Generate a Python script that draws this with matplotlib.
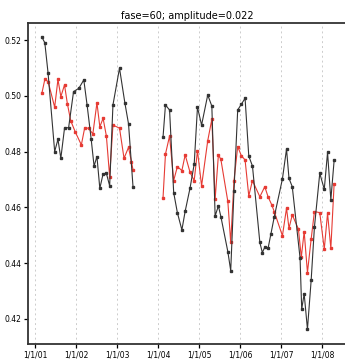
import numpy as np
import matplotlib
matplotlib.use("Agg")
import matplotlib.pyplot as plt

# observed series (decimal years), gap in 2003 split with NaN
black_t = [2001.17, 2001.24, 2001.32, 2001.48, 2001.56, 2001.63, 2001.72, 2001.82,
           2001.94, 2002.07, 2002.19, 2002.27, 2002.37, 2002.44, 2002.51, 2002.58,
           2002.66, 2002.74, 2002.82, 2002.90, 2003.06, 2003.19, 2003.28, 2003.39,
           2003.70,
           2004.12, 2004.18, 2004.28, 2004.38, 2004.47, 2004.58, 2004.66, 2004.78,
           2004.88, 2004.96, 2005.06, 2005.21, 2005.31, 2005.39, 2005.47, 2005.53,
           2005.70, 2005.77, 2005.85, 2005.94, 2006.03, 2006.12, 2006.21, 2006.30,
           2006.48, 2006.54, 2006.60, 2006.68, 2006.75, 2006.83, 2007.03, 2007.13,
           2007.19, 2007.27, 2007.46, 2007.50, 2007.56, 2007.64, 2007.73, 2007.81,
           2007.94, 2008.05, 2008.13, 2008.21, 2008.29]
black_v = [0.5210, 0.5190, 0.5080, 0.4800, 0.4844, 0.4776, 0.4884, 0.4886,
           0.5015, 0.5027, 0.5057, 0.4967, 0.4844, 0.4748, 0.4782, 0.4668,
           0.4720, 0.4722, 0.4677, 0.4967, 0.5099, 0.4975, 0.4899, 0.4672,
           np.nan,
           0.4851, 0.4967, 0.4949, 0.4653, 0.4581, 0.4519, 0.4586, 0.4670,
           0.4755, 0.4959, 0.4895, 0.5003, 0.4963, 0.4569, 0.4605, 0.4567,
           0.4441, 0.4373, 0.4660, 0.4949, 0.4970, 0.4991, 0.4784, 0.4748,
           0.4474, 0.4438, 0.4457, 0.4453, 0.4505, 0.4565, 0.4702, 0.4809,
           0.4704, 0.4674, 0.4418, 0.4235, 0.4290, 0.4163, 0.4338, 0.4529,
           0.4722, 0.4665, 0.4797, 0.4627, 0.4768]

red_t = [2001.17, 2001.24, 2001.32, 2001.48, 2001.56, 2001.63, 2001.72, 2001.79,
         2001.87, 2001.98, 2002.13, 2002.21, 2002.31, 2002.41, 2002.51, 2002.58,
         2002.66, 2002.74, 2002.82, 2002.90, 2003.06, 2003.17, 2003.28, 2003.35,
         2003.39,
         2003.70,
         2004.12, 2004.18, 2004.28, 2004.38, 2004.47, 2004.58, 2004.66, 2004.78,
         2004.88, 2004.96, 2005.06, 2005.21, 2005.31, 2005.39, 2005.47, 2005.53,
         2005.70, 2005.77, 2005.85, 2005.94, 2006.03, 2006.12, 2006.21, 2006.30,
         2006.48, 2006.60, 2006.68, 2006.77, 2006.83, 2007.03, 2007.13, 2007.19,
         2007.27, 2007.42, 2007.49, 2007.56, 2007.64, 2007.73, 2007.81, 2007.94,
         2008.05, 2008.13, 2008.21, 2008.29]
red_v = [0.5010, 0.5059, 0.5051, 0.4959, 0.5059, 0.4997, 0.5039, 0.4971,
         0.4911, 0.4871, 0.4824, 0.4884, 0.4884, 0.4863, 0.4975, 0.4889,
         0.4919, 0.4856, 0.4710, 0.4895, 0.4884, 0.4776, 0.4815, 0.4764,
         0.4734,
         np.nan,
         0.4633, 0.4791, 0.4856, 0.4696, 0.4746, 0.4732, 0.4788, 0.4725,
         0.4696, 0.4803, 0.4677, 0.4839, 0.4916, 0.4629, 0.4788, 0.4772,
         0.4621, 0.4474, 0.4696, 0.4818, 0.4785, 0.4770, 0.4641, 0.4696,
         0.4638, 0.4674, 0.4638, 0.4609, 0.4585, 0.4498, 0.4597, 0.4525,
         0.4573, 0.4522, 0.4421, 0.4513, 0.4366, 0.4486, 0.4585, 0.4581,
         0.4450, 0.4579, 0.4453, 0.4684]

tick_years = [2001, 2002, 2003, 2004, 2005, 2006, 2007, 2008]
tick_labels = ["1/1/01", "1/1/02", "1/1/03", "1/1/04", "1/1/05", "1/1/06", "1/1/07", "1/1/08"]
y_ticks = [0.42, 0.44, 0.46, 0.48, 0.50, 0.52]

fig = plt.figure(figsize=(3.45, 3.6), dpi=100)
ax = fig.add_axes([28 / 345, 16 / 360, 325 / 345, 321 / 360])

# light dashed guides at each new year
for yr in tick_years:
    ax.axvline(yr, color="#cccccc", lw=0.7, ls=(0, (2, 3)), zorder=0)

ax.plot(red_t, red_v, color="#e63b34", lw=0.8, marker="s", ms=1.6, zorder=2)
ax.plot(black_t, black_v, color="#333333", lw=0.8, marker="s", ms=1.6, zorder=3)

ax.set_xlim(2000.83, 2008.75)
ax.set_ylim(0.411, 0.5261)
ax.set_xticks(tick_years)
ax.set_xticklabels(tick_labels)
ax.set_yticks(y_ticks)
ax.set_yticklabels(["%.2f" % v for v in y_ticks])
ax.tick_params(direction="out", length=3, width=0.9, labelsize=5.5, pad=2)

for side in ["left", "bottom", "top"]:
    ax.spines[side].set_linewidth(1.3)
    ax.spines[side].set_color("#333333")

ax.set_title("fase=60; amplitude=0.022", fontsize=7, pad=3, x=0.49)

fig.savefig("out.png", dpi=100)
